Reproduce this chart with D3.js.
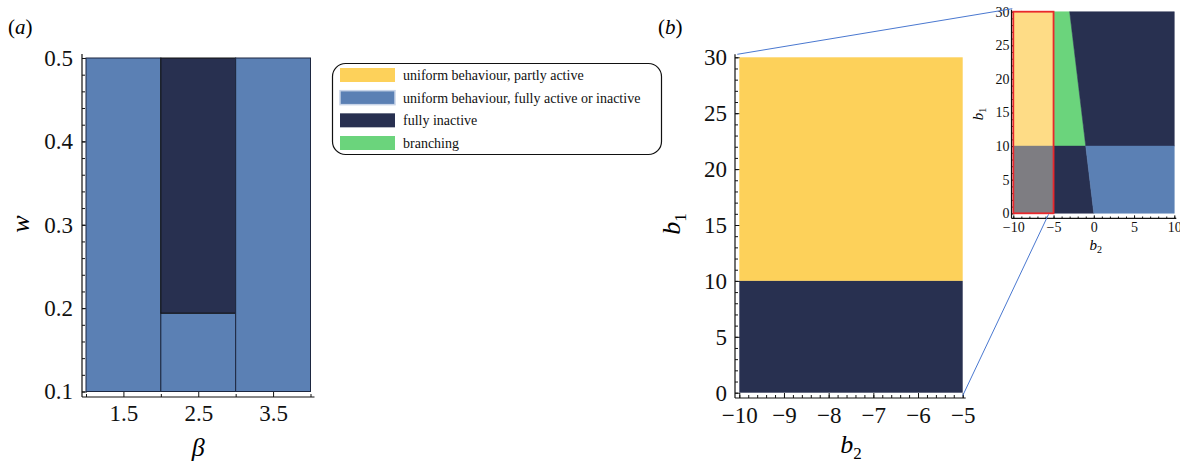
<!DOCTYPE html>
<html>
<head>
<meta charset="utf-8">
<script src="https://cdn.jsdelivr.net/npm/d3@7"></script>
<style>
  html, body { margin: 0; padding: 0; background: #fff; }
  svg, svg text { display: block; font-family: "Liberation Serif", "Times New Roman", serif !important; }
  .tick text { fill: #111; }
</style>
</head>
<body>
<svg id="fig" width="1180" height="463"></svg>
<script>
// ---- regimes (legend order) ----
const regimeNames = [
  "uniform behaviour, partly active",
  "uniform behaviour, fully active or inactive",
  "fully inactive",
  "branching"
];

// ---- panel (a): w versus beta ----
const betaTicks = [1.5, 2.5, 3.5];
const betaDomain = [1, 4];
const wTicks = [0.1, 0.2, 0.3, 0.4, 0.5];
const wDomain = [0.1, 0.5];
// cells: beta range, w range, regime index
const cellsA = [
  { beta: [1, 2], w: [0.1, 0.5], regime: 1 },
  { beta: [2, 3], w: [0.1, 0.194], regime: 1 },
  { beta: [2, 3], w: [0.194, 0.5], regime: 2 },
  { beta: [3, 4], w: [0.1, 0.5], regime: 1 }
];

// ---- panel (b): b1 versus b2 (zoomed window) ----
const b2TicksB = [-10, -9, -8, -7, -6, -5];
const b2DomainB = [-10, -5];
const b1TicksB = [0, 5, 10, 15, 20, 25, 30];
const b1Domain = [0, 30];
const cellsB = [
  { b2: [-10, -5], b1: [10, 30], regime: 0 },
  { b2: [-10, -5], b1: [0, 10], regime: 2 }
];

// ---- inset: full b2 range; boundary follows b2 = -b1/10 ----
const b2TicksInset = [-10, -5, 0, 5, 10];
const b2DomainInset = [-10, 10];
const b1TicksInset = [0, 5, 10, 15, 20, 25, 30];
const zoomWindow = { b2: [-10, -5], b1: [0, 30] };
const insetRegions = [
  { pts: [[-10, 10], [-5, 10], [-5, 30], [-10, 30]], regime: 0, highlight: true },
  { pts: [[-10, 0], [-5, 0], [-5, 10], [-10, 10]], regime: 2, highlight: true },
  { pts: [[-5, 10], [-1, 10], [-3, 30], [-5, 30]], regime: 3 },
  { pts: [[-3, 30], [-1, 10], [10, 10], [10, 30]], regime: 2 },
  { pts: [[-5, 0], [0, 0], [-1, 10], [-5, 10]], regime: 2 },
  { pts: [[0, 0], [10, 0], [10, 10], [-1, 10]], regime: 1 }
];

// ---- styling ----
const fillColors = ["#fdd15a", "#5b80b4", "#283050", "#6bd47c"];
const highlightColors = ["#fedc86", "#5b80b4", "#7e7d82", "#6bd47c"];
const serif = '"Liberation Serif", "Times New Roman", serif';
const svg = d3.select("#fig");

function styleAxis(g, fontSize) {
  g.attr("font-family", serif).attr("font-size", fontSize);
  g.select(".domain").remove();
  g.selectAll(".tick line").attr("stroke", "#111").attr("stroke-width", 1);
  g.selectAll(".tick text").attr("font-size", fontSize).attr("font-family", serif).attr("fill", "#111");
}

function drawAxes(opts) {
  const { x, y, xTicks, yTicks, xMinor, yMinor, xAxisY, yAxisX, fontSize,
          majorLen, minorLen, xPad, yPad, xFmt, yFmt, axisExt } = opts;
  // minor ticks
  svg.append("g").attr("transform", `translate(0,${xAxisY})`)
    .call(d3.axisBottom(x).tickValues(xMinor).tickSize(-minorLen).tickFormat(""))
    .call(g => styleAxis(g, fontSize));
  svg.append("g").attr("transform", `translate(${yAxisX},0)`)
    .call(d3.axisLeft(y).tickValues(yMinor).tickSize(-minorLen).tickFormat(""))
    .call(g => styleAxis(g, fontSize));
  // major ticks with labels
  svg.append("g").attr("transform", `translate(0,${xAxisY})`)
    .call(d3.axisBottom(x).tickValues(xTicks).tickSize(-majorLen).tickPadding(xPad).tickFormat(xFmt))
    .call(g => styleAxis(g, fontSize));
  svg.append("g").attr("transform", `translate(${yAxisX},0)`)
    .call(d3.axisLeft(y).tickValues(yTicks).tickSize(-majorLen).tickPadding(yPad).tickFormat(yFmt))
    .call(g => styleAxis(g, fontSize));
  // axis lines
  const [x0, x1] = x.range(), [y0, y1] = y.range();
  svg.append("line").attr("x1", yAxisX).attr("x2", x1 + axisExt).attr("y1", xAxisY).attr("y2", xAxisY)
    .attr("stroke", "#111").attr("stroke-width", 1.2);
  svg.append("line").attr("x1", yAxisX).attr("x2", yAxisX).attr("y1", xAxisY).attr("y2", y1 - axisExt)
    .attr("stroke", "#111").attr("stroke-width", 1.2);
}

function range(a, b, step) {
  const out = [];
  const n = Math.round((b - a) / step);
  for (let i = 0; i <= n; i++) out.push(+(a + i * step).toFixed(6));
  return out;
}

// ================= panel (a) =================
const xA = d3.scaleLinear().domain(betaDomain).range([86, 310.5]);
const yA = d3.scaleLinear().domain(wDomain).range([391.5, 58]);

drawAxes({
  x: xA, y: yA, xTicks: betaTicks, yTicks: wTicks,
  xMinor: [1, 2, 3, 4], yMinor: range(0.1, 0.5, 0.02),
  xAxisY: 397, yAxisX: 82, fontSize: 23, majorLen: 5, minorLen: 3,
  xPad: 8, yPad: 9, xFmt: d3.format(".1f"), yFmt: d3.format(".1f"), axisExt: 4
});

svg.append("g").selectAll("rect").data(cellsA).join("rect")
  .attr("x", d => xA(d.beta[0]))
  .attr("y", d => yA(d.w[1]))
  .attr("width", d => xA(d.beta[1]) - xA(d.beta[0]))
  .attr("height", d => yA(d.w[0]) - yA(d.w[1]))
  .attr("fill", d => fillColors[d.regime])
  .attr("stroke", d => d.regime === 2 ? "#111" : "#1d2740")
  .attr("stroke-width", 1);

svg.append("text").attr("x", 8).attr("y", 34).attr("font-size", 21)
  .html('(<tspan font-style="italic">a</tspan>)');
svg.append("text").attr("transform", "translate(29,224) rotate(-90)")
  .attr("text-anchor", "middle").attr("font-size", 26).attr("font-style", "italic").text("w");
svg.append("text").attr("x", xA(2.5)).attr("y", 456)
  .attr("text-anchor", "middle").attr("font-size", 26).attr("font-style", "italic").text("β");

// ================= legend =================
const legend = svg.append("g");
legend.append("rect").attr("x", 332.5).attr("y", 63.5).attr("width", 329).attr("height", 91)
  .attr("rx", 13).attr("fill", "#fff").attr("stroke", "#111").attr("stroke-width", 1.2);
const legendY = d3.scalePoint().domain(regimeNames).range([75, 143]);
const rows = legend.selectAll("g.row").data(regimeNames).join("g").attr("class", "row")
  .attr("transform", d => `translate(0,${legendY(d)})`);
rows.append("rect").attr("x", 340).attr("y", -7).attr("width", 55).attr("height", 14)
  .attr("fill", (d, i) => fillColors[i])
  .attr("stroke", (d, i) => i === 1 ? "#c8d4e8" : "none").attr("stroke-width", 1.5);
rows.append("text").attr("x", 403).attr("y", 0).attr("dy", "0.35em")
  .attr("font-size", 14).attr("fill", "#111").text(d => d);

// ================= panel (b) =================
const xB = d3.scaleLinear().domain(b2DomainB).range([739.3, 962.7]);
const yB = d3.scaleLinear().domain(b1Domain).range([392.7, 57.3]);

drawAxes({
  x: xB, y: yB, xTicks: b2TicksB, yTicks: b1TicksB,
  xMinor: range(-10, -5, 0.2), yMinor: range(0, 30, 1),
  xAxisY: 398, yAxisX: 735, fontSize: 23, majorLen: 5, minorLen: 3,
  xPad: 9, yPad: 8, xFmt: d3.format("d"), yFmt: d3.format("d"), axisExt: 3
});

svg.append("g").selectAll("rect").data(cellsB).join("rect")
  .attr("x", d => xB(d.b2[0]))
  .attr("y", d => yB(d.b1[1]))
  .attr("width", d => xB(d.b2[1]) - xB(d.b2[0]))
  .attr("height", d => yB(d.b1[0]) - yB(d.b1[1]))
  .attr("fill", d => fillColors[d.regime]);

svg.append("text").attr("x", 658).attr("y", 34).attr("font-size", 21)
  .html('(<tspan font-style="italic">b</tspan>)');
svg.append("text").attr("transform", "translate(680,224) rotate(-90)")
  .attr("text-anchor", "middle").attr("font-size", 26)
  .html('<tspan font-style="italic">b</tspan><tspan font-size="17" dy="6">1</tspan>');
svg.append("text").attr("x", xB(-7.5)).attr("y", 453)
  .attr("text-anchor", "middle").attr("font-size", 26)
  .html('<tspan font-style="italic">b</tspan><tspan font-size="17" dy="6">2</tspan>');

// ================= inset =================
const xI = d3.scaleLinear().domain(b2DomainInset).range([1013.3, 1174.3]);
const yI = d3.scaleLinear().domain(b1Domain).range([213.3, 11.7]);

drawAxes({
  x: xI, y: yI, xTicks: b2TicksInset, yTicks: b1TicksInset,
  xMinor: range(-10, 10, 1), yMinor: range(0, 30, 1),
  xAxisY: 218.3, yAxisX: 1011.5, fontSize: 14, majorLen: 3, minorLen: 1.8,
  xPad: 4, yPad: 2, xFmt: d3.format("d"), yFmt: d3.format("d"), axisExt: 2
});

const line = d3.line().x(p => xI(p[0])).y(p => yI(p[1]));
svg.append("g").selectAll("path").data(insetRegions).join("path")
  .attr("d", d => line(d.pts) + "Z")
  .attr("fill", d => d.highlight ? highlightColors[d.regime] : fillColors[d.regime])
  .attr("stroke", d => d.highlight ? highlightColors[d.regime] : fillColors[d.regime])
  .attr("stroke-width", 0.5);

svg.append("rect")
  .attr("x", xI(zoomWindow.b2[0])).attr("y", yI(zoomWindow.b1[1]))
  .attr("width", xI(zoomWindow.b2[1]) - xI(zoomWindow.b2[0]))
  .attr("height", yI(zoomWindow.b1[0]) - yI(zoomWindow.b1[1]))
  .attr("fill", "none").attr("stroke", "#e8282c").attr("stroke-width", 1.8);

svg.append("text").attr("transform", "translate(983,114) rotate(-90)")
  .attr("text-anchor", "middle").attr("font-size", 15)
  .html('<tspan font-style="italic">b</tspan><tspan font-size="10" dy="3">1</tspan>');
svg.append("text").attr("x", xI(0) + 2).attr("y", 250)
  .attr("text-anchor", "middle").attr("font-size", 15)
  .html('<tspan font-style="italic">b</tspan><tspan font-size="10" dy="3">2</tspan>');

// ---- connectors from the zoomed panel to its window in the inset ----
const connectors = [
  [[xB(zoomWindow.b2[0]) - 2, yB(zoomWindow.b1[1]) - 3], [xI(zoomWindow.b2[0]) - 1, yI(zoomWindow.b1[1]) - 3]],
  [[xB(zoomWindow.b2[1]), yB(zoomWindow.b1[0]) + 3], [xI(zoomWindow.b2[1]) - 5, yI(zoomWindow.b1[0]) + 1]]
];
svg.append("g").selectAll("line").data(connectors).join("line")
  .attr("x1", d => d[0][0]).attr("y1", d => d[0][1])
  .attr("x2", d => d[1][0]).attr("y2", d => d[1][1])
  .attr("stroke", "#4a78d0").attr("stroke-width", 1);
</script>
</body>
</html>
